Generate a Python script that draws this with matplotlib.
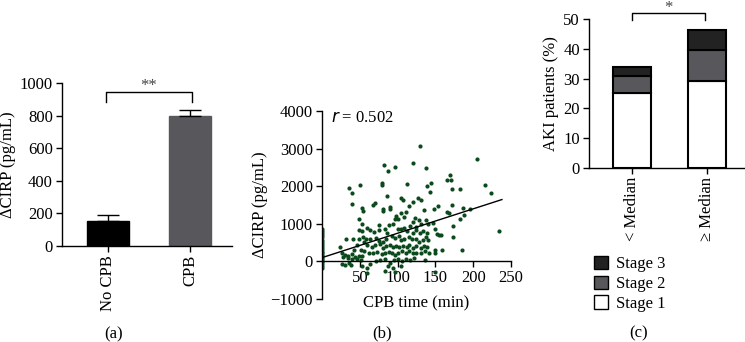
import matplotlib
matplotlib.use("Agg")
import matplotlib.pyplot as plt
from matplotlib.patches import Patch
import numpy as np

plt.rcParams['font.family'] = ['Liberation Serif', 'DejaVu Serif']
plt.rcParams['font.size'] = 12
plt.rcParams['axes.linewidth'] = 1.0
plt.rcParams['xtick.major.width'] = 1.0
plt.rcParams['ytick.major.width'] = 1.0
plt.rcParams['xtick.major.size'] = 4
plt.rcParams['ytick.major.size'] = 4
plt.rcParams['xtick.major.pad'] = 2.5
plt.rcParams['ytick.major.pad'] = 2.5

# ---- (a) CIRP by group ----
grupos = ["No CPB", "CPB"]
cirp_media = [152, 798]
cirp_erro = [40, 38]
cores_a = ["#000000", "#58585c"]

# ---- (b) CIRP vs CPB time ----
cpb_tempo = [
    130, 205, 120, 82.5, 96.6, 87, 137, 169, 171, 166, 50, 79, 79, 112, 144, 139,
    36, 40, 172, 183, 215, 224, 143, 86.5, 40, 70, 67, 104, 107, 121, 127, 131,
    81, 81, 90, 90, 53, 54.7, 115, 148, 154, 172, 186, 196, 135, 104, 111, 97.5,
    96, 100, 108, 168, 188, 183, 173, 165, 49.4, 53, 59, 64, 49, 53, 69, 75, 75,
    84, 86, 94, 89, 120, 123, 128, 116, 124, 131, 138, 140, 147, 150, 152, 155,
    157, 173, 234, 100, 104, 109, 112, 120, 129, 125, 133, 139, 138, 92.6, 85, 97,
    102, 104, 109, 115, 119, 124, 128, 133, 140, 81, 75, 71, 63.5, 58, 54, 49, 55,
    41, 32, 60, 66, 70, 77, 81, 85, 90, 94, 98, 102, 107, 112, 115, 120, 125, 131,
    135, 139, 150, 159, 185, 24, 43, 46, 52, 56, 62, 68, 73, 79, 83, 89, 93, 97,
    101, 106, 111, 115, 120, 125, 131, 136, 141, 150, 27, 31, 35, 40, 44, 49, 53,
    28, 34, 40, 46, 51, 26, 30, 36, 39, 53, 59, 64, 71, 77, 83, 90, 95, 100, 106,
    111, 116, 122, 136, 83, 94, 97, 104, 59, 87, 150,
    0, 0, 0, 0, 0, 0, 0, 0, 0, 0, 0, 0, 0, 0, 0, 0, 0, 0, 0, 0, 0, 0,
]
cirp_delta = [
    3082, 2729, 2605, 2552, 2499, 2410, 2472, 2287, 2155, 2172, 2040, 2084, 2022,
    2057, 2084, 2013, 1943, 1828, 1925, 1934, 2022, 1819, 1837, 1731, 1536, 1563,
    1501, 1687, 1625, 1581, 1687, 1634, 1404, 1351, 1386, 1439, 1413, 1342, 1466,
    1404, 1466, 1510, 1422, 1395, 1360, 1289, 1307, 1201, 1139, 1139, 1183, 1298,
    1236, 1139, 954, 1316, 1139, 998, 883, 848, 848, 804, 786, 980, 839, 865, 759,
    1007, 962, 1060, 1166, 1113, 954, 927, 1007, 1113, 998, 1024, 874, 742, 715,
    715, 653, 812, 865, 874, 901, 812, 751, 759, 830, 821, 759, 662, 689, 600, 627,
    689, 574, 609, 653, 600, 583, 521, 565, 574, 521, 556, 618, 583, 583, 636, 609,
    512, 583, 600, 424, 371, 442, 468, 353, 406, 433, 380, 406, 371, 406, 371, 433,
    353, 398, 353, 398, 371, 300, 300, 309, 380, 300, 433, 300, 265, 230, 230, 238,
    194, 230, 256, 230, 177, 230, 283, 212, 265, 212, 230, 212, 265, 221, 230, 230,
    168, 141, 185, 115, 132, 141, 115, 88, 53, 71, 44, -80, -97, -35, -97, -124,
    -168, -80, 9, 35, 71, -35, 35, 53, 9, 53, 35, 80, 26, -265, -168, -283, -124,
    -300, -124, -283,
    870, 820, 760, 700, 640, 580, 520, 450, 400, 350, 310, 260, 220, 180, 140, 100,
    60, 20, -20, -70, -130, -180,
]
# linha de regressao
reta_x = [0, 238]
reta_y = [100, 1645]

# ---- (c) AKI stages ----
medianas = ["< Median", "\u2265 Median"]
estagio1 = [25.2, 29.3]
estagio2 = [5.8, 10.2]
estagio3 = [3.0, 6.8]

fig = plt.figure(figsize=(7.45, 3.42), dpi=100)

# =============================================================================
# (a)
# =============================================================================
ax_a = fig.add_axes([0.0832, 0.2807, 0.2282, 0.4766])
pos_a = np.arange(len(grupos))
ax_a.bar(pos_a, cirp_media, width=0.52, color=cores_a, edgecolor=cores_a, zorder=2)
ax_a.errorbar(pos_a, cirp_media, yerr=[[0, 0], cirp_erro], fmt='none',
              ecolor='black', elinewidth=1.0, capsize=8, capthick=1.0, zorder=3)
ax_a.set_ylim(0, 1000)
ax_a.set_xlim(-0.561, 1.512)
ax_a.set_yticks([0, 200, 400, 600, 800, 1000])
ax_a.set_xticks(pos_a)
ax_a.set_xticklabels(grupos, rotation=90)
ax_a.set_ylabel("\u0394CIRP (pg/mL)", labelpad=3)
for s in ["top", "right"]:
    ax_a.spines[s].set_visible(False)
ax_a.plot([-0.03, -0.03, 1.03, 1.03], [885, 943, 943, 885], color='black',
          lw=1.0, clip_on=False)
ax_a.text(0.5, 955, "**", ha='center', va='baseline', fontsize=12, color='#444444')

# =============================================================================
# (b)
# =============================================================================
ax_b = fig.add_axes([0.4322, 0.1257, 0.2537, 0.5497])
ax_b.scatter(cpb_tempo, cirp_delta, s=9, color='#0b4a1c', zorder=2, linewidths=0)
ax_b.plot(reta_x, reta_y, color='black', lw=1.0, zorder=3)
ax_b.set_xlim(0, 250)
ax_b.set_ylim(-1000, 4000)
ax_b.set_yticks([-1000, 0, 1000, 2000, 3000, 4000])
ax_b.set_yticklabels(["\u22121000", "0", "1000", "2000", "3000", "4000"])
ax_b.set_xticks([50, 100, 150, 200, 250])
ax_b.spines['bottom'].set_position(('data', 0))
for s in ["top", "right"]:
    ax_b.spines[s].set_visible(False)
ax_b.set_xlabel("CPB time (min)")
ax_b.xaxis.set_label_coords(0.497, -0.022)
ax_b.xaxis.label.set_va('center')
ax_b.set_ylabel("\u0394CIRP (pg/mL)", labelpad=2)
ax_b.text(12, 3820, "$r$ = 0.502", ha='left', va='center')

# =============================================================================
# (c)
# =============================================================================
ax_c = fig.add_axes([0.7906, 0.5088, 0.2094, 0.4357])
pos_c = np.arange(len(medianas))
larg = 0.507
base2 = np.array(estagio1)
base3 = base2 + np.array(estagio2)
ax_c.bar(pos_c, estagio1, width=larg, color='white', edgecolor='black',
         lw=1.5, label="Stage 1", zorder=2)
ax_c.bar(pos_c, estagio2, width=larg, bottom=base2, color='#58585c',
         edgecolor='black', lw=1.5, label="Stage 2", zorder=2)
ax_c.bar(pos_c, estagio3, width=larg, bottom=base3, color='#222222',
         edgecolor='black', lw=1.5, label="Stage 3", zorder=2)
ax_c.set_ylim(0, 50)
ax_c.set_xlim(-0.573, 1.507)
ax_c.set_yticks([0, 10, 20, 30, 40, 50])
ax_c.set_xticks(pos_c)
ax_c.set_xticklabels(medianas, rotation=90)
ax_c.set_ylabel("AKI patients (%)", labelpad=3)
for s in ["top", "right"]:
    ax_c.spines[s].set_visible(False)
ax_c.plot([0, 0, 0.97, 0.97], [49.7, 51.9, 51.9, 49.7], color='black', lw=1.0,
          clip_on=False)
ax_c.text(0.485, 52.3, "*", ha='center', va='baseline', fontsize=12, color='#444444')

handles = [Patch(facecolor='#222222', edgecolor='black', label="Stage 3"),
           Patch(facecolor='#58585c', edgecolor='black', label="Stage 2"),
           Patch(facecolor='white', edgecolor='black', label="Stage 1")]
fig.legend(handles=handles, loc='upper left', bbox_to_anchor=(0.797, 0.252),
           frameon=False, handlelength=0.85, handleheight=0.85, handletextpad=0.5,
           labelspacing=0.2, borderpad=0, borderaxespad=0, fontsize=12)

fig.text(0.152, 0.022, "(a)", ha='center', va='center')
fig.text(0.513, 0.026, "(b)", ha='center', va='center')
fig.text(0.857, 0.026, "(c)", ha='center', va='center')

fig.savefig("out.png", dpi=100)
